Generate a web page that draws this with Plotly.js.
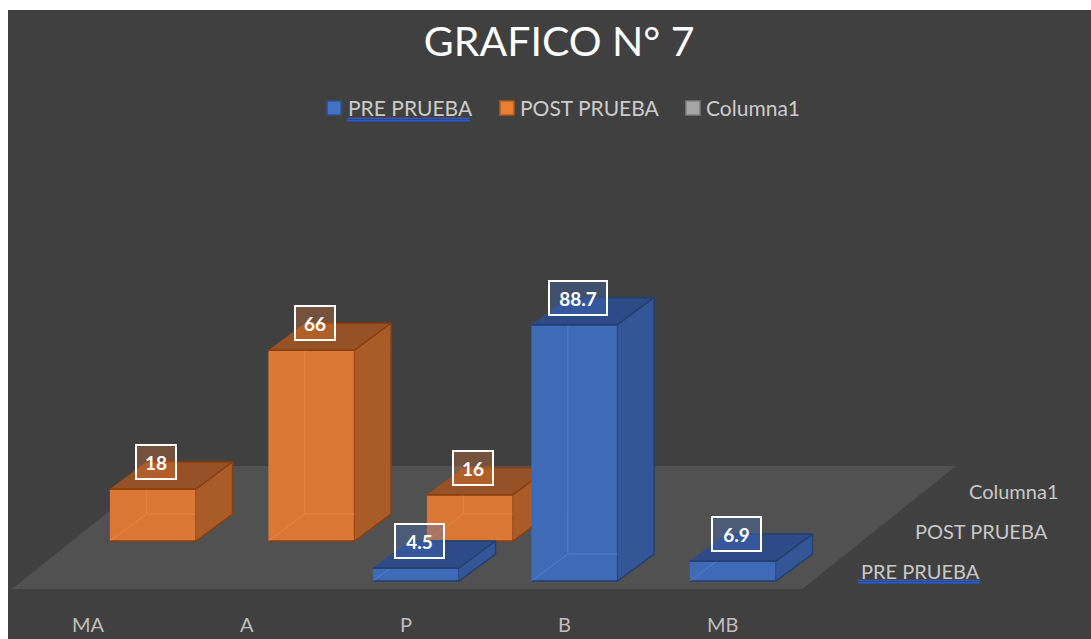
<!DOCTYPE html>
<html>
<head>
<meta charset="utf-8">
<script src="https://cdn.plot.ly/plotly-3.0.1.min.js"></script>
<style>
  html, body { margin: 0; padding: 0; background: #ffffff; }
  #chart { position: absolute; left: 8px; top: 10px; width: 1083px; height: 629px; }
</style>
</head>
<body>
<div id="chart"></div>
<script>
// ---- data ----
const categories = ['MA', 'A', 'P', 'B', 'MB'];
const prePrueba  = [null, null, 4.5, 88.7, 6.9];
const postPrueba = [18, 66, 16, null, null];
const columna1   = [null, null, null, null, null];
const seriesNames = ['PRE PRUEBA', 'POST PRUEBA', 'Columna1'];
const seriesValues = [prePrueba, postPrueba, columna1];

// ---- styles ----
const FONT = 'Lato, "Open Sans", sans-serif';
const styles = [
  { front: '#3f6ab7', top: '#2d4b87', side: '#345696', edge: '#22406f', inner: '#8fb0ea',
    legend: '#4472c4', legendEdge: '#2f528f', label: 'rgba(68,114,196,0.35)' },
  { front: '#dc7634', top: '#965226', side: '#aa5c28', edge: '#8a3d0e', inner: '#f5b07e',
    legend: '#ed7d31', legendEdge: '#ae5a21', label: 'rgba(237,125,49,0.30)' },
  { front: '#a5a5a5', top: '#7f7f7f', side: '#8c8c8c', edge: '#6f6f6f', inner: '#d0d0d0',
    legend: '#a5a5a5', legendEdge: '#7f7f7f', label: 'rgba(165,165,165,0.35)' }
];

// ---- oblique 3D geometry (in axis units) ----
const HW = 0.272;          // half bar width (x units)
const ROW_DX = 0.3407;     // x shift per depth row
const ROW_DY = 13.84;      // y shift per depth row (value units)
const BAR_DEPTH = 0.675;   // bar depth, in rows
const FLOOR_DX = 0.3155;   // floor x shift per row
const FLOOR_D0 = -0.2, FLOOR_D1 = 2.875;
const FLOOR_X0 = -0.486, FLOOR_X1 = 4.5;

// legend layout (paper coordinates)
const LEGEND_SQ_X = [0.2946, 0.4543, 0.6260];
const LEGEND_TXT_X = [0.3130, 0.4718, 0.6436];
const LEGEND_Y = 0.8442, LEGEND_SQ_H = 0.0111, LEGEND_SQ_W = 0.0129;

const traces = [];

// floor
traces.push({
  type: 'scatter', mode: 'lines', fill: 'toself', showlegend: false, hoverinfo: 'skip',
  x: [FLOOR_X0 + FLOOR_D0 * FLOOR_DX, FLOOR_X1 + FLOOR_D0 * FLOOR_DX,
      FLOOR_X1 + FLOOR_D1 * FLOOR_DX, FLOOR_X0 + FLOOR_D1 * FLOOR_DX],
  y: [FLOOR_D0 * ROW_DY, FLOOR_D0 * ROW_DY, FLOOR_D1 * ROW_DY, FLOOR_D1 * ROW_DY],
  line: { width: 0, color: 'rgba(0,0,0,0)' }, fillcolor: '#515151'
});

function poly(xs, ys, fill, edge) {
  traces.push({
    type: 'scatter', mode: 'lines', fill: 'toself', showlegend: false, hoverinfo: 'skip',
    x: xs, y: ys, fillcolor: fill, line: { color: edge, width: 1.5 }
  });
}

const annotations = [];
const shapes = [];

// draw rows from back to front
for (let r = seriesValues.length - 1; r >= 0; r--) {
  const vals = seriesValues[r];
  const st = styles[r];
  const ddx = BAR_DEPTH * ROW_DX, ddy = BAR_DEPTH * ROW_DY;
  vals.forEach((v, i) => {
    if (v === null || v === undefined) return;
    const L = i + r * ROW_DX - HW, R = i + r * ROW_DX + HW;
    const B = r * ROW_DY, T = B + v;
    // front
    poly([L, R, R, L], [B, B, T, T], st.front, st.edge);
    // faint hidden edges seen through the translucent front
    traces.push({
      type: 'scatter', mode: 'lines', showlegend: false, hoverinfo: 'skip', opacity: 0.28,
      x: [L, L + ddx, null, L + ddx, L + ddx, null, L + ddx, R + ddx],
      y: [B, B + ddy, null, B + ddy, T + ddy, null, B + ddy, B + ddy],
      line: { color: st.inner, width: 1 }
    });
    // top
    poly([L, R, R + ddx, L + ddx], [T, T, T + ddy, T + ddy], st.top, st.edge);
    // side
    poly([R, R + ddx, R + ddx, R], [B, B + ddy, T + ddy, T], st.side, st.edge);
    // data label
    const txt = String(v);
    annotations.push({
      x: i + r * ROW_DX + 0.02, y: T + ddy, xref: 'x', yref: 'y',
      text: '<b>' + txt + '</b>', showarrow: false,
      font: { family: FONT, size: 19, color: '#ffffff' },
      bgcolor: st.label, bordercolor: '#ffffff', borderwidth: 2, borderpad: 5,
      width: 10 + 9 * txt.length, height: 22, align: 'center', valign: 'middle'
    });
  });
}

// legend (squares + names)
seriesNames.forEach((name, r) => {
  shapes.push({
    type: 'rect', xref: 'paper', yref: 'paper',
    x0: LEGEND_SQ_X[r], x1: LEGEND_SQ_X[r] + LEGEND_SQ_W,
    y0: LEGEND_Y - LEGEND_SQ_H, y1: LEGEND_Y + LEGEND_SQ_H,
    fillcolor: styles[r].legend, line: { color: styles[r].legendEdge, width: 1.5 }
  });
  annotations.push({
    x: LEGEND_TXT_X[r], y: LEGEND_Y, xref: 'paper', yref: 'paper', text: name,
    showarrow: false, xanchor: 'left', yanchor: 'middle', borderpad: 0,
    font: { family: FONT, size: 21, color: '#cccccc' }
  });
});

// category labels in front of the floor
categories.forEach((c, i) => {
  annotations.push({
    x: i + FLOOR_D0 * FLOOR_DX, y: -15.0, xref: 'x', yref: 'y', text: c, showarrow: false,
    font: { family: FONT, size: 20, color: '#bfbfbf' }, xanchor: 'center', yanchor: 'middle'
  });
});

// series (depth) labels on the right of the floor
seriesNames.forEach((name, r) => {
  annotations.push({
    x: 4.71 + (r + 0.25) * ROW_DX, y: (r + 0.25) * ROW_DY, xref: 'x', yref: 'y',
    text: name, showarrow: false, xanchor: 'left', yanchor: 'middle',
    font: { family: FONT, size: 20, color: '#c8c8c8' }
  });
});

// blue double underline under both "PRE PRUEBA" texts
[[0.3130, 0.4266, 0.8275], [0.3130, 0.4266, 0.8240],
 [0.7849, 0.8975, 0.0930], [0.7849, 0.8975, 0.0895]].forEach(u => {
  shapes.push({ type: 'line', xref: 'paper', yref: 'paper', x0: u[0], x1: u[1], y0: u[2], y1: u[2],
                line: { color: '#2a5bd7', width: 1.5 } });
});

const layout = {
  width: 1083, height: 629,
  margin: { l: 0, r: 0, t: 0, b: 0, pad: 0 },
  paper_bgcolor: '#404040', plot_bgcolor: 'rgba(0,0,0,0)',
  title: { text: 'GRAFICO N° 7', x: 0.509, xanchor: 'center', y: 0.949, yanchor: 'middle',
           font: { family: FONT, size: 41, color: '#ffffff' } },
  showlegend: false,
  xaxis: { range: [-0.5741, 6.2587], visible: false, fixedrange: true },
  yaxis: { range: [-20.07, 197.58], visible: false, fixedrange: true },
  annotations: annotations,
  shapes: shapes
};

Plotly.newPlot('chart', traces, layout, { staticPlot: true, displayModeBar: false });
</script>
</body>
</html>
